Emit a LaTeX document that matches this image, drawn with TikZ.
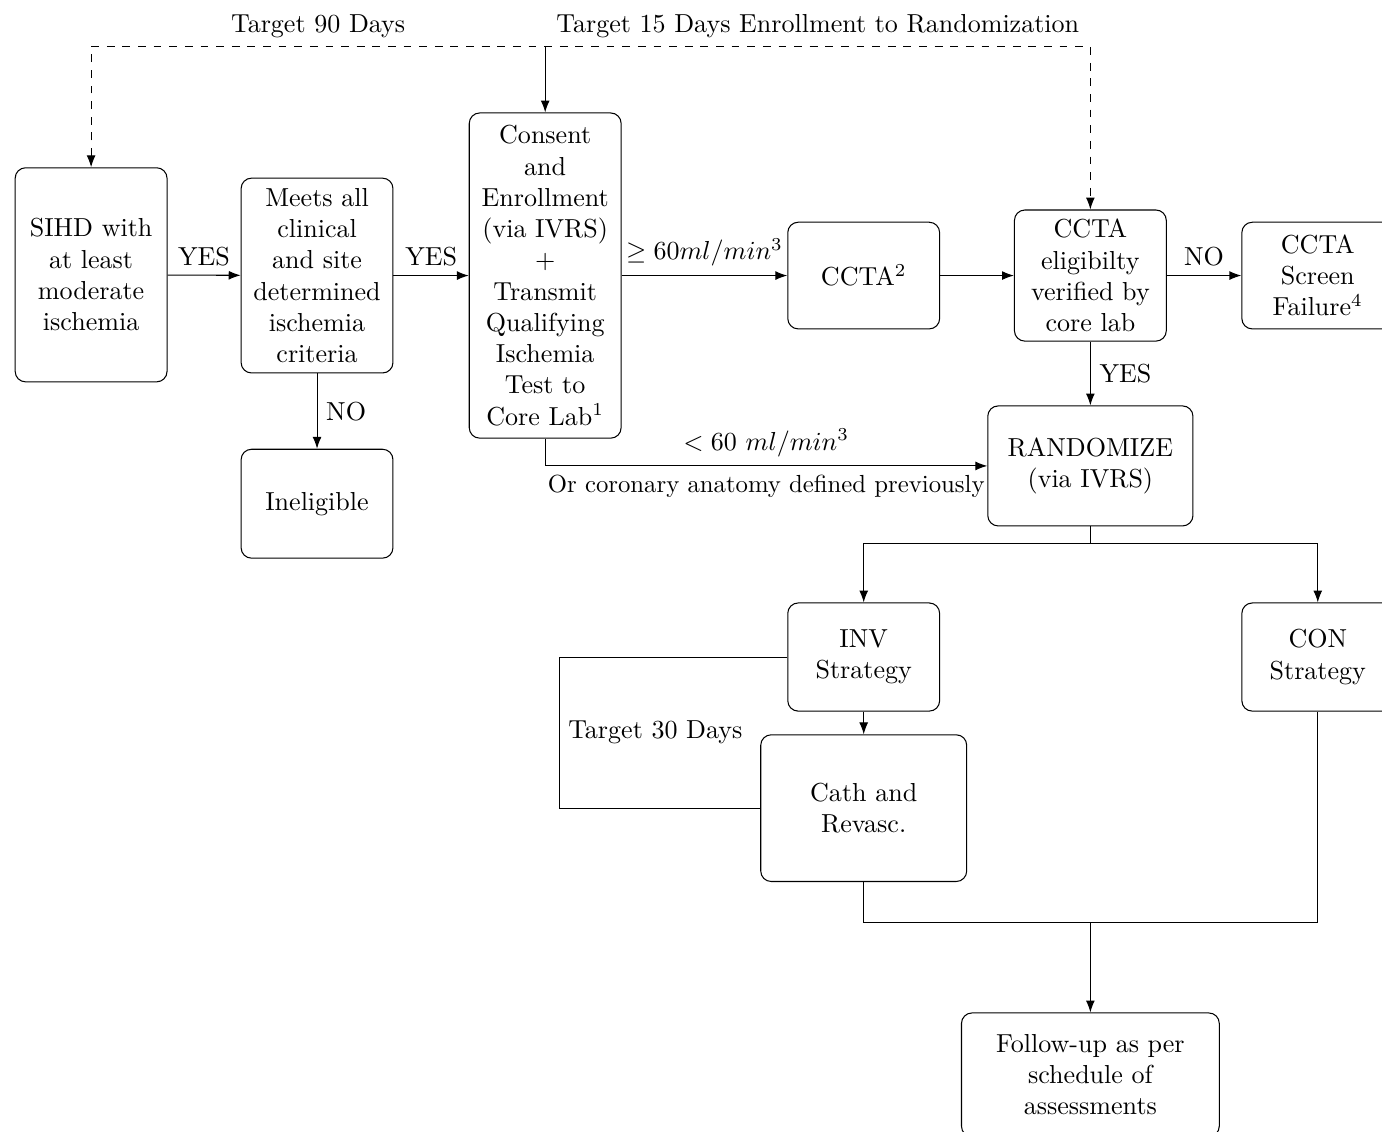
\documentclass[tikz,border=0pt]{standalone}
\usepackage{tikz}
\usetikzlibrary{arrows.meta, calc}
\usepackage{amsmath}
\usepackage{amssymb}

\tikzset{
  stepbox/.style={draw, rounded corners=4pt, align=center, minimum width=2.05cm, inner sep=2pt},
  flow/.style={-{Latex[length=1.6mm,width=1.2mm]}}
}

\begin{document}
\begin{tikzpicture}
            \useasboundingbox (0,0) rectangle (18.657,-15.282);

            % boxes
            \node[stepbox, minimum height=2.89cm] (sihd) at (1.23,-3.71) {SIHD with\\at least\\moderate\\ischemia};
            \node[stepbox, minimum height=2.63cm] (meets) at (4.28,-3.72) {Meets all\\clinical\\and site\\determined\\ischemia\\criteria};
            \node[stepbox, minimum height=4.39cm] (consent) at (7.36,-3.72) {Consent\\and\\Enrollment\\(via IVRS)\\+\\Transmit\\Qualifying\\Ischemia\\Test to\\Core Lab$^1$};
            \node[stepbox, minimum height=1.44cm] (ccta) at (11.66,-3.72) {CCTA$^2$};
            \node[stepbox, minimum height=1.77cm] (elig) at (14.72,-3.72) {CCTA\\eligibilty\\verified by\\core lab};
            \node[stepbox, minimum height=1.44cm] (fail) at (17.79,-3.72) {CCTA\\Screen\\Failure$^4$};
            \node[stepbox, minimum height=1.47cm] (inelig) at (4.28,-6.80) {Ineligible};
            \node[stepbox, minimum height=1.62cm, minimum width=2.77cm] (rand) at (14.72,-6.29) {RANDOMIZE\\(via IVRS)};
            \node[stepbox, minimum height=1.46cm] (inv) at (11.66,-8.87) {INV\\Strategy};
            \node[stepbox, minimum height=1.46cm] (con) at (17.79,-8.87) {CON\\Strategy};
            \node[stepbox, minimum height=1.98cm, minimum width=2.78cm] (cath) at (11.66,-10.91) {Cath and\\Revasc.};
            \node[stepbox, minimum height=1.67cm, minimum width=3.48cm] (follow) at (14.72,-14.51) {Follow-up as per\\schedule of\\assessments};

            % target windows
            \coordinate (tl) at (0,-0.63);
            \draw[dashed, {Latex[length=1.6mm,width=1.2mm]}-{Latex[length=1.6mm,width=1.2mm]}] (sihd.north) -- (sihd.north |- tl) -- (elig.north |- tl) -- (elig.north);
            \draw[flow] (consent.north |- tl) -- (consent.north);
            \node[above] at ($(sihd.north |- tl)!0.5!(consent.north |- tl)$) {Target 90 Days};
            \node[above] at ($(consent.north |- tl)!0.5!(elig.north |- tl)$) {Target 15 Days Enrollment to Randomization};

            % screening
            \draw[flow] (sihd) -- node[above] {YES} (meets);
            \draw[flow] (meets) -- node[above] {YES} (consent);
            \draw[flow] (meets) -- node[right] {NO} (inelig);
            \draw[flow] (consent) -- node[above] {$\geq 60ml/min^3$} (ccta);
            \draw[flow] (ccta) -- (elig);
            \draw[flow] (elig) -- node[above] {NO} (fail);
            \draw[flow] (elig) -- node[right] {YES} (rand);
            \draw[flow] (consent.south) |- (rand.west)
                node[pos=0.75, above] {$<60\ ml/min^3$}
                node[pos=0.75, below, font=\fontsize{9.5pt}{11pt}\selectfont] {Or coronary anatomy defined previously};

            % randomization
            \draw (rand.south) -- ++(0,-0.23) coordinate (split);
            \draw[flow] (split) -| (inv.north);
            \draw[flow] (split) -| (con.north);
            \draw[flow] (inv) -- (cath);
            \draw (inv.west) -- ++(-3.08,0) coordinate (bend) |- (cath.west);
            \node[right] at ($(bend)!0.5!(bend |- cath.west)$) {Target 30 Days};

            % follow-up
            \coordinate (join) at (0,-12.45);
            \draw (cath.south) -- (cath.south |- join) -| (con.south);
            \draw[flow] (follow.north |- join) -- (follow.north);
        \end{tikzpicture}
\end{document}
